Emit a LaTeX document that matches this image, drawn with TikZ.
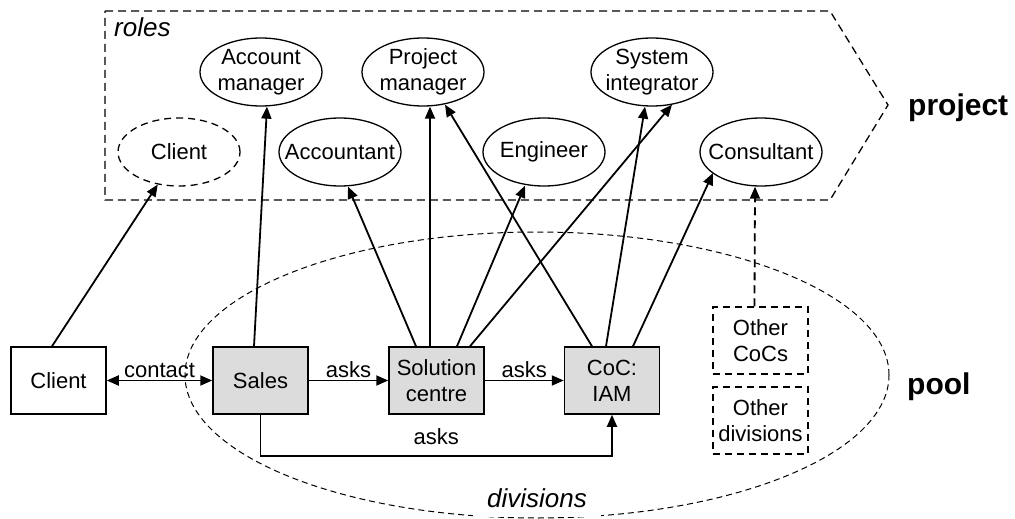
\documentclass[tikz,border=0pt]{standalone}
\usepackage{fontspec}
\setmainfont{Liberation Sans}
\usetikzlibrary{arrows.meta,calc,shapes.geometric}
\definecolor{boxgray}{HTML}{DCDCDC}
\begin{document}
\begin{tikzpicture}[x=1pt,y=-1pt,
  txt/.style={font=\fontsize{22}{26}\selectfont, align=center},
  role/.style={txt, ellipse, draw, line width=1.3pt, minimum width=122pt, minimum height=68pt, inner sep=-30pt},
  drole/.style={role, dash pattern=on 7pt off 5pt},
  unit/.style={txt, rectangle, draw, line width=1.5pt, minimum width=95pt, minimum height=67pt, inner sep=0pt},
  gunit/.style={unit, fill=boxgray},
  dunit/.style={unit, dash pattern=on 7pt off 5pt},
  conn/.style={line width=1.8pt, -{Triangle[length=12pt,width=10pt]}},
  dconn/.style={conn, dash pattern=on 8pt off 5pt},
  lbl/.style={font=\fontsize{22}{26}\selectfont, inner sep=2pt},
  ital/.style={font=\fontsize{26}{30}\selectfont\itshape, inner sep=0pt, anchor=base west},
  bld/.style={font=\fontsize{30}{34}\selectfont\bfseries, inner sep=0pt, anchor=base west},
]
\useasboundingbox (0,0) rectangle (1015,519);

% divisions ellipse
\draw[line width=1pt, dash pattern=on 6pt off 4pt] (537,375) ellipse [x radius=352pt, y radius=143pt];
% project frame
\draw[line width=1.3pt, dash pattern=on 8pt off 5pt] (105,11) -- (830,11) -- (888,105) -- (830,200) -- (105,200) -- cycle;

\node[ital] (roles) at (114,37) {roles};
\node[ital, fill=white, inner xsep=14pt, inner ysep=10pt] (divs) at (473,507) {divisions};
\node[bld] (proj) at (908,115) {project};
\node[bld] (pool) at (907,394) {pool};

% roles
\node[role] (am) at (261,72) {Account\\manager};
\node[role] (pm) at (423,72) {Project\\manager};
\node[role] (si) at (652,72) {System\\integrator};
\node[drole] (rcl) at (179,152) {Client};
\node[role] (acc) at (340,152) {Accountant};
\node[role] (eng) at (544,152) {Engineer};
\node[role] (cons) at (761,152) {Consultant};

% units
\node[unit] (client) at (58.5,380.5) {Client};
\node[gunit] (sales) at (260.5,380.5) {Sales};
\node[gunit] (sol) at (436.5,380.5) {Solution\\centre};
\node[gunit] (coc) at (612,380.5) {CoC:\\IAM};
\node[dunit] (ococ) at (760.5,340.5) {Other\\CoCs};
\node[dunit] (odiv) at (760.5,420.5) {Other\\divisions};

% connectors
\draw[conn] ($(client.north)+(-6.5,0)$) -- (rcl);
\draw[conn] ($(sales.north)+(-6.5,0)$) -- ($(am.south)+(6,0)$);
\draw[conn] ($(sol.north)+(-20.5,0)$) -- ($(acc.south)+(8,0)$);
\draw[conn] ($(sol.north)+(-6.5,0)$) -- ($(pm.south)+(7,0)$);
\draw[conn] ($(sol.north)+(20.5,0)$) -- ($(eng.south)+(-19,-1)$);
\draw[conn] ($(sol.north)+(33.5,0)$) -- ($(si.south)+(20,-2)$);
\draw[conn] ($(coc.north)+(-20,0)$) -- ($(pm.south)+(22,-2)$);
\draw[conn] ($(coc.north)+(-6,0)$) -- ($(si.south)+(-7,0)$);
\draw[conn] ($(coc.north)+(21,0)$) -- ($(cons.center)+(-48,21)$);
\draw[dconn] ($(ococ.north)+(-6,0)$) -- ($(cons.south)+(-6,0)$);

\draw[conn, {Triangle[length=12pt,width=10pt]}-{Triangle[length=12pt,width=10pt]}] (client) -- node[lbl, above] {contact} (sales);
\draw[conn] (sales) -- node[lbl, above] {asks} (sol);
\draw[conn] (sol) -- node[lbl, above] {asks} (coc);
\coordinate (b1) at ($(sales.south)+(0,41)$);
\draw[conn] (sales.south) -- (b1) -| node[lbl, pos=0.25, above=8pt] {asks} (coc.south);
\end{tikzpicture}
\end{document}
